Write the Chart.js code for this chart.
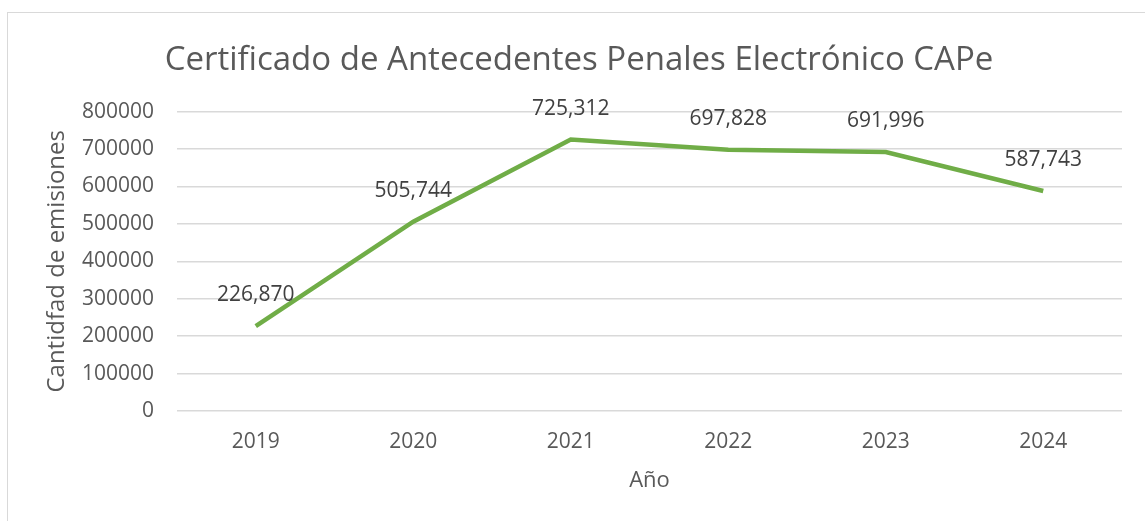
<!DOCTYPE html>
<html lang="es">
<head>
    <meta charset="UTF-8">
    <title>Certificado de Antecedentes Penales Electrónico CAPe</title>
    <script src="https://cdn.jsdelivr.net/npm/chart.js"></script>
    <style>
        html, body {
            margin: 0;
            padding: 0;
            background: #ffffff;
        }
        #chartBox {
            position: relative;
            width: 1145px;
            height: 521px;
        }
    </style>
</head>
<body>
    <div id="chartBox">
        <canvas id="capeChart" width="1145" height="521"></canvas>
    </div>

    <script>
        // datos del grafico
        const years = ['2019', '2020', '2021', '2022', '2023', '2024'];
        const emisiones = [226870, 505744, 725312, 697828, 691996, 587743];
        const yTicks = [0, 100000, 200000, 300000, 400000, 500000, 600000, 700000, 800000];

        const textGrey = '#595959';
        const fontName = "'Open Sans', 'Noto Sans', sans-serif";

        // marco gris alrededor del grafico
        const framePlugin = {
            id: 'frame',
            beforeDraw(chart) {
                const c = chart.ctx;
                c.save();
                c.fillStyle = '#ffffff';
                c.fillRect(0, 0, chart.width, chart.height);
                c.strokeStyle = '#d9d9d9';
                c.lineWidth = 1;
                c.strokeRect(7.5, 12.5, chart.width + 20, chart.height + 20);
                c.restore();
            }
        };

        // etiquetas de valor encima de cada punto
        const valueLabels = {
            id: 'valueLabels',
            afterDatasetsDraw(chart) {
                const c = chart.ctx;
                const meta = chart.getDatasetMeta(0);
                c.save();
                c.font = '21px ' + fontName;
                c.fillStyle = '#404040';
                c.textAlign = 'center';
                c.textBaseline = 'middle';
                meta.data.forEach((pt, i) => {
                    c.fillText(emisiones[i].toLocaleString('en-US'), pt.x, pt.y - 31);
                });
                c.restore();
            }
        };

        const ctx = document.getElementById('capeChart').getContext('2d');
        const capeChart = new Chart(ctx, {
            type: 'line',
            data: {
                labels: years,
                datasets: [{
                    label: 'Emisiones',
                    data: emisiones,
                    borderColor: '#70ad47',
                    borderWidth: 4.5,
                    pointRadius: 0,
                    pointHoverRadius: 0,
                    tension: 0,
                    fill: false
                }]
            },
            options: {
                responsive: false,
                animation: false,
                layout: {
                    padding: { top: 12, left: 18, right: 5, bottom: 0 }
                },
                plugins: {
                    legend: { display: false },
                    tooltip: { enabled: false },
                    title: {
                        display: true,
                        text: 'Certificado de Antecedentes Penales Electrónico CAPe',
                        color: textGrey,
                        font: { family: fontName, size: 33, weight: 'normal', lineHeight: 1.2 },
                        padding: { top: 29, bottom: 31 }
                    }
                },
                scales: {
                    x: {
                        offset: true,
                        grid: { display: false, drawTicks: false },
                        border: { display: false },
                        ticks: {
                            color: textGrey,
                            font: { family: fontName, size: 21 },
                            padding: 18
                        },
                        title: {
                            display: true,
                            text: 'Año',
                            color: textGrey,
                            font: { family: fontName, size: 22 },
                            padding: { top: 0, bottom: 27 }
                        },
                        afterFit(scale) { scale.height = 110; }
                    },
                    y: {
                        min: 0,
                        max: 800000,
                        afterBuildTicks(scale) {
                            scale.ticks = yTicks.map(v => ({ value: v }));
                        },
                        grid: { color: '#d9d9d9', lineWidth: 1.5, drawTicks: false },
                        border: { display: false },
                        ticks: {
                            color: textGrey,
                            font: { family: fontName, size: 21 },
                            padding: 23,
                            callback: v => String(v)
                        },
                        title: {
                            display: true,
                            text: 'Cantidfad de emisiones',
                            color: textGrey,
                            font: { family: fontName, size: 24 },
                            padding: { top: 25 }
                        },
                        afterFit(scale) { scale.width = 159; }
                    },
                    // eje vacio a la derecha, solo deja el margen del area de trazado
                    yRight: {
                        position: 'right',
                        grid: { display: false, drawTicks: false },
                        border: { display: false },
                        ticks: { display: false },
                        afterFit(scale) { scale.width = 18; }
                    }
                }
            },
            plugins: [framePlugin, valueLabels]
        });
    </script>
</body>
</html>
